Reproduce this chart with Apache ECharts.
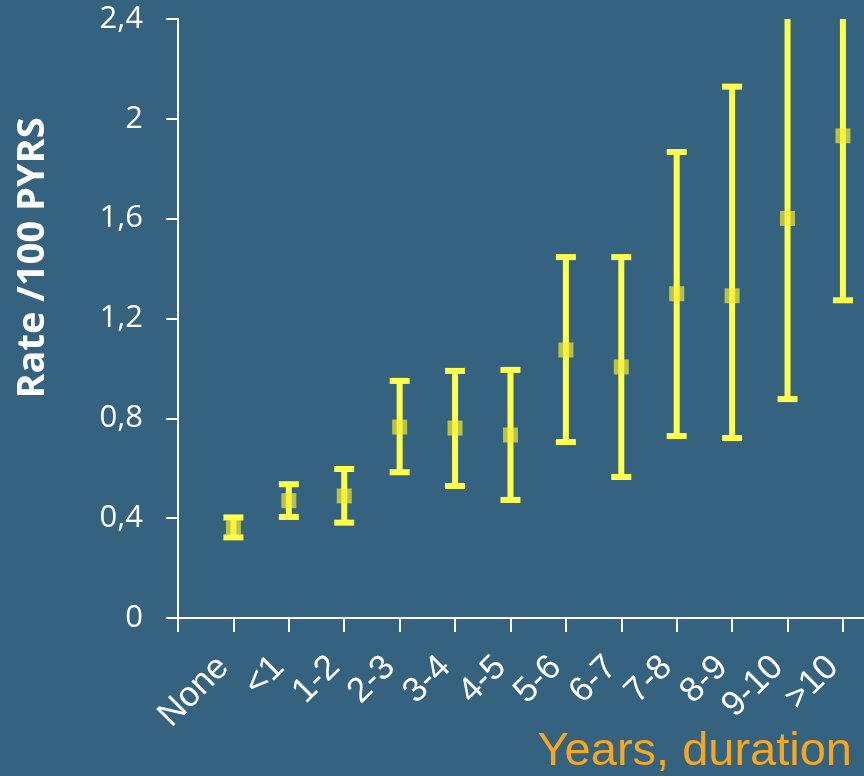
<!DOCTYPE html>
<html>
<head>
<meta charset="utf-8">
<script src="https://cdn.jsdelivr.net/npm/echarts@6/dist/echarts.min.js"></script>
<style>
html,body{margin:0;padding:0;background:#35627f;}
#chart{width:864px;height:776px;}
</style>
</head>
<body>
<div id="chart"></div>
<script>
var categories = ['None', '<1', '1-2', '2-3', '3-4', '4-5', '5-6', '6-7', '7-8', '8-9', '9-10', '>10'];
var rateValues = [0.364, 0.470, 0.489, 0.765, 0.761, 0.733, 1.074, 1.006, 1.299, 1.291, 1.601, 1.932];
var lowerValues = [0.323, 0.405, 0.382, 0.584, 0.529, 0.473, 0.705, 0.565, 0.729, 0.721, 0.877, 1.273];
var upperValues = [0.403, 0.536, 0.597, 0.950, 0.990, 0.994, 1.446, 1.446, 1.867, 2.129, 2.650, 2.650];
var yTicks = [0, 0.4, 0.8, 1.2, 1.6, 2, 2.4];

var xTickValues = [0];
for (var k = 0; k < categories.length; k++) xTickValues.push(k + 1);
var xLabelValues = xTickValues.slice(1);

var errData = categories.map(function (c, i) { return [i + 1, lowerValues[i], upperValues[i]]; });
var pointData = categories.map(function (c, i) { return [i + 1, rateValues[i]]; });

var chart = echarts.init(document.getElementById('chart'));
var option = {
  backgroundColor: '#35627f',
  animation: false,
  grid: { left: 178, right: 0, top: 19, bottom: 158, containLabel: false },
  xAxis: {
    type: 'value',
    min: 0,
    max: 12.38,
    interval: 1,
    splitLine: { show: false },
    axisLine: { show: true, lineStyle: { color: '#ffffff', width: 2 } },
    axisTick: { show: true, length: 14, lineStyle: { color: '#ffffff', width: 2 }, customValues: xTickValues },
    axisLabel: {
      customValues: xLabelValues,
      rotate: 45,
      margin: 34,
      padding: [0, 14, 0, 0],
      color: '#ffffff',
      fontFamily: 'Liberation Sans',
      fontSize: 35,
      formatter: function (v) { return categories[Math.round(v) - 1] || ''; }
    }
  },
  yAxis: {
    type: 'value',
    min: 0,
    max: 2.4,
    interval: 0.4,
    splitLine: { show: false },
    axisLine: { show: true, lineStyle: { color: '#ffffff', width: 2 } },
    axisTick: { show: true, length: 12, lineStyle: { color: '#ffffff', width: 2 } },
    axisLabel: {
      customValues: yTicks,
      margin: 35,
      color: '#ffffff',
      fontFamily: 'Open Sans',
      fontSize: 31,
      formatter: function (v) { return String(Math.round(v * 10) / 10).replace('.', ','); }
    }
  },
  series: [
    {
      type: 'custom',
      clip: true,
      data: errData,
      z: 2,
      renderItem: function (params, api) {
        var x = api.value(0);
        var lo = api.coord([x, api.value(1)]);
        var hi = api.coord([x, api.value(2)]);
        var hw = 10;
        var st = { stroke: '#ffff4d', lineWidth: 6 };
        return {
          type: 'group',
          children: [
            { type: 'line', shape: { x1: lo[0], y1: lo[1], x2: hi[0], y2: hi[1] }, style: st },
            { type: 'line', shape: { x1: lo[0] - hw, y1: lo[1], x2: lo[0] + hw, y2: lo[1] }, style: st },
            { type: 'line', shape: { x1: hi[0] - hw, y1: hi[1], x2: hi[0] + hw, y2: hi[1] }, style: st }
          ]
        };
      }
    },
    {
      type: 'scatter',
      data: pointData,
      symbol: 'rect',
      symbolSize: 15,
      z: 3,
      itemStyle: { color: 'rgba(245,238,50,0.86)' }
    }
  ],
  graphic: [
    {
      type: 'text',
      x: 33,
      y: 258,
      rotation: Math.PI / 2,
      style: {
        text: 'Rate /100 PYRS',
        fill: '#ffffff',
        font: 'bold 38px "Open Sans"',
        textAlign: 'center',
        textVerticalAlign: 'middle'
      }
    },
    {
      type: 'text',
      right: 12,
      bottom: 0,
      style: {
        text: 'Years, duration',
        fill: '#f5a623',
        font: '47px "Liberation Sans"'
      }
    }
  ]
};
chart.setOption(option);
</script>
</body>
</html>
